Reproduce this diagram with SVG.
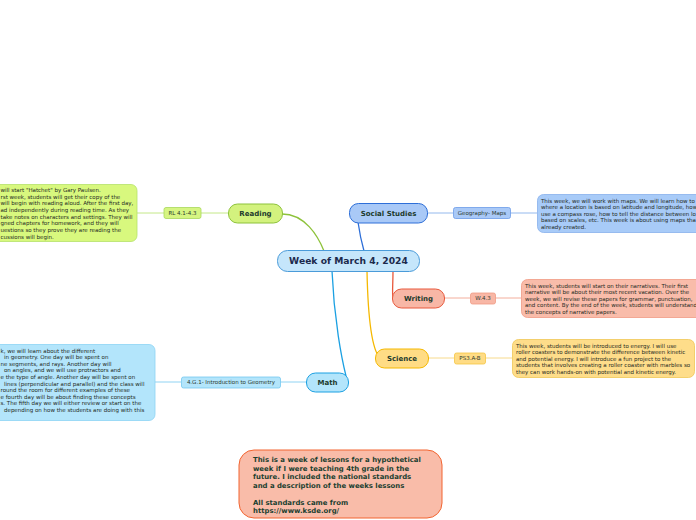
<svg xmlns="http://www.w3.org/2000/svg" width="696" height="520" viewBox="0 0 696 520">
<style>
.bg{fill:#ffffff}
.t{font-family:"DejaVu Sans","Liberation Sans",sans-serif;font-size:5.5px;fill:#1f2a22}
.lbl{font-family:"DejaVu Sans","Liberation Sans",sans-serif;font-size:5.5px;fill:#2a3a2e;text-anchor:middle}
.node{font-family:"DejaVu Sans","Liberation Sans",sans-serif;font-size:7px;font-weight:bold;fill:#1d3a2c;text-anchor:middle}
.main{font-family:"DejaVu Sans","Liberation Sans",sans-serif;font-size:9.2px;font-weight:bold;fill:#1c2a4c;text-anchor:middle}
.note{font-family:"DejaVu Sans","Liberation Sans",sans-serif;font-size:6.9px;font-weight:bold;fill:#1b4030}
.c{fill:none;stroke-width:1.3}
.s{fill:none;stroke-width:0.8}
</style>
<rect class="bg" x="0" y="0" width="696" height="520"/>
<g id="connectors">
  <path class="c" d="M282,214 C305,214 318,236 324,251" stroke="#8dc23a"/>
  <path class="c" d="M358,222 C360,236 362,244 364,251" stroke="#2e6fd8"/>
  <path class="c" d="M393,271 C393,285 392,292 393,298" stroke="#e8593c"/>
  <path class="c" d="M367,271 C368,320 372,350 380,358" stroke="#f5b800"/>
  <path class="c" d="M332,271 C334,320 342,360 346,376" stroke="#1ba0e2"/>
  <path class="s" d="M228,213 L201,213 M164,213 L137,213" stroke="#b5e26a"/>
  <path class="s" d="M427,213 L453,213 M510,213 L537,213" stroke="#7aa7e8"/>
  <path class="s" d="M444,298 L470,298 M495,298 L521,298" stroke="#f09a84"/>
  <path class="s" d="M428,358 L454,358 M485,358 L512,358" stroke="#f5d070"/>
  <path class="s" d="M306,382 L280,382 M181,382 L155,382" stroke="#74c8f0"/>
</g>
<g id="central">
  <rect x="277.5" y="250.5" width="142" height="21" rx="10" fill="#c5e6fb" stroke="#4a9bd9" stroke-width="1"/>
  <text class="main" x="348.5" y="264.3">Week of March 4, 2024</text>
</g>
<g id="reading">
  <rect x="228.5" y="204" width="54" height="19" rx="9" fill="#d3f27e" stroke="#8dc23a" stroke-width="1"/>
  <text class="node" x="255.5" y="216">Reading</text>
</g>
<g id="reading-std">
  <rect x="164" y="207.5" width="37" height="11" rx="2" fill="#d6f582" stroke="#a8d85c" stroke-width="0.8"/>
  <text class="lbl" x="182.5" y="214.9">RL 4.1-4.3</text>
</g>
<g id="reading-desc">
  <rect x="-20" y="184.5" width="157" height="57" rx="6" fill="#d8f87e" stroke="#b5e26a" stroke-width="0.8"/>
  <text class="t" x="0.5" y="191.8">will start "Hatchet" by Gary Paulsen.</text>
  <text class="t" x="0.5" y="198.5">rst week, students will get their copy of the</text>
  <text class="t" x="0.5" y="205.2">will begin with reading aloud. After the first day,</text>
  <text class="t" x="0.5" y="211.9">ad independently during reading time. As they</text>
  <text class="t" x="0.5" y="218.6">take notes on characters and settings. They will</text>
  <text class="t" x="0.5" y="225.3">gned chapters for homework, and they will</text>
  <text class="t" x="0.5" y="232">uestions so they prove they are reading the</text>
  <text class="t" x="0.5" y="238.7">cussions will begin.</text>
</g>
<g id="social">
  <rect x="349.5" y="203.5" width="78" height="19.5" rx="9" fill="#a9c9f7" stroke="#2e6fd8" stroke-width="1"/>
  <text class="node" x="388.5" y="215.8">Social Studies</text>
</g>
<g id="social-std">
  <rect x="453.5" y="207.5" width="57" height="11" rx="2" fill="#a9c9f7" stroke="#6b9ae8" stroke-width="0.8"/>
  <text class="lbl" x="482" y="214.9">Geography- Maps</text>
</g>
<g id="social-desc">
  <rect x="537.5" y="194.5" width="180" height="38" rx="6" fill="#a8cbf8" stroke="#88b0ec" stroke-width="0.8"/>
  <text class="t" x="541" y="202.7">This week, we will work with maps. We will learn how to</text>
  <text class="t" x="541" y="209.2">where a location is based on latitude and longitude, how</text>
  <text class="t" x="541" y="215.7">use a compass rose, how to tell the distance between lo</text>
  <text class="t" x="541" y="222.2">based on scales, etc. This week is about using maps tha</text>
  <text class="t" x="541" y="228.7">already created.</text>
</g>
<g id="writing">
  <rect x="392.5" y="289" width="52" height="19" rx="9" fill="#f8b7a6" stroke="#e8593c" stroke-width="1"/>
  <text class="node" x="418.5" y="301">Writing</text>
</g>
<g id="writing-std">
  <rect x="470.5" y="293" width="25" height="11" rx="2" fill="#f8b7a6" stroke="#f09a84" stroke-width="0.8"/>
  <text class="lbl" x="483" y="300.4">W.4.3</text>
</g>
<g id="writing-desc">
  <rect x="521.5" y="279.5" width="190" height="38" rx="6" fill="#f9bcaa" stroke="#f09a84" stroke-width="0.8"/>
  <text class="t" x="525" y="287.5">This week, students will start on their narratives. Their first</text>
  <text class="t" x="525" y="294">narrative will be about their most recent vacation. Over the</text>
  <text class="t" x="525" y="300.5">week, we will revise these papers for grammar, punctuation,</text>
  <text class="t" x="525" y="307">and content. By the end of the week, students will understand</text>
  <text class="t" x="525" y="313.5">the concepts of narrative papers.</text>
</g>
<g id="science">
  <rect x="375.5" y="349" width="53" height="19" rx="9" fill="#ffdc85" stroke="#f5b800" stroke-width="1"/>
  <text class="node" x="402" y="361">Science</text>
</g>
<g id="science-std">
  <rect x="454.5" y="353" width="31" height="11" rx="2" fill="#ffdc85" stroke="#f5c542" stroke-width="0.8"/>
  <text class="lbl" x="470" y="360.4">PS3.A-B</text>
</g>
<g id="science-desc">
  <rect x="512.5" y="339.5" width="182" height="38" rx="6" fill="#fedd8a" stroke="#f0c656" stroke-width="0.8"/>
  <text class="t" x="516" y="347.5">This week, students will be introduced to energy. I will use</text>
  <text class="t" x="516" y="354">roller coasters to demonstrate the difference between kinetic</text>
  <text class="t" x="516" y="360.5">and potential energy. I will introduce a fun project to the</text>
  <text class="t" x="516" y="367">students that involves creating a roller coaster with marbles so</text>
  <text class="t" x="516" y="373.5">they can work hands-on with potential and kinetic energy.</text>
</g>
<g id="math">
  <rect x="306.5" y="373" width="42" height="19" rx="9" fill="#b3e5fb" stroke="#1ba0e2" stroke-width="1"/>
  <text class="node" x="327.5" y="385">Math</text>
</g>
<g id="math-std">
  <rect x="181.5" y="377" width="99" height="11" rx="2" fill="#b3e5fb" stroke="#74c8f0" stroke-width="0.8"/>
  <text class="lbl" x="231" y="384.4">4.G.1- Introduction to Geometry</text>
</g>
<g id="math-desc">
  <rect x="-20" y="344.5" width="175" height="76" rx="6" fill="#b3e5fb" stroke="#8dd3f4" stroke-width="0.8"/>
  <text class="t" x="0.5" y="352.5">k, we will learn about the different</text>
  <text class="t" x="4" y="359.1">in geometry. One day will be spent on</text>
  <text class="t" x="0.5" y="365.7">ne segments, and rays. Another day will</text>
  <text class="t" x="4" y="372.3">on angles, and we will use protractors and</text>
  <text class="t" x="0.5" y="378.9">e the type of angle. Another day will be spent on</text>
  <text class="t" x="4" y="385.5">lines (perpendicular and parallel) and the class will</text>
  <text class="t" x="0.5" y="392.1">round the room for different examples of these</text>
  <text class="t" x="0.5" y="398.7">e fourth day will be about finding these concepts</text>
  <text class="t" x="0.5" y="405.3">s. The fifth day we will either review or start on the</text>
  <text class="t" x="4" y="411.9">depending on how the students are doing with this</text>
</g>
<g id="note">
  <rect x="239" y="450" width="203" height="68" rx="15" fill="#f9bca9" stroke="#f26430" stroke-width="1"/>
  <text class="note" x="253" y="462">This is a week of lessons for a hypothetical</text>
  <text class="note" x="253" y="470.5">week if I were teaching 4th grade in the</text>
  <text class="note" x="253" y="479">future. I included the national standards</text>
  <text class="note" x="253" y="487.5">and a description of the weeks lessons</text>
  <text class="note" x="253" y="504.5">All standards came from</text>
  <text class="note" x="253" y="513">https://www.ksde.org/</text>
</g>
</svg>
